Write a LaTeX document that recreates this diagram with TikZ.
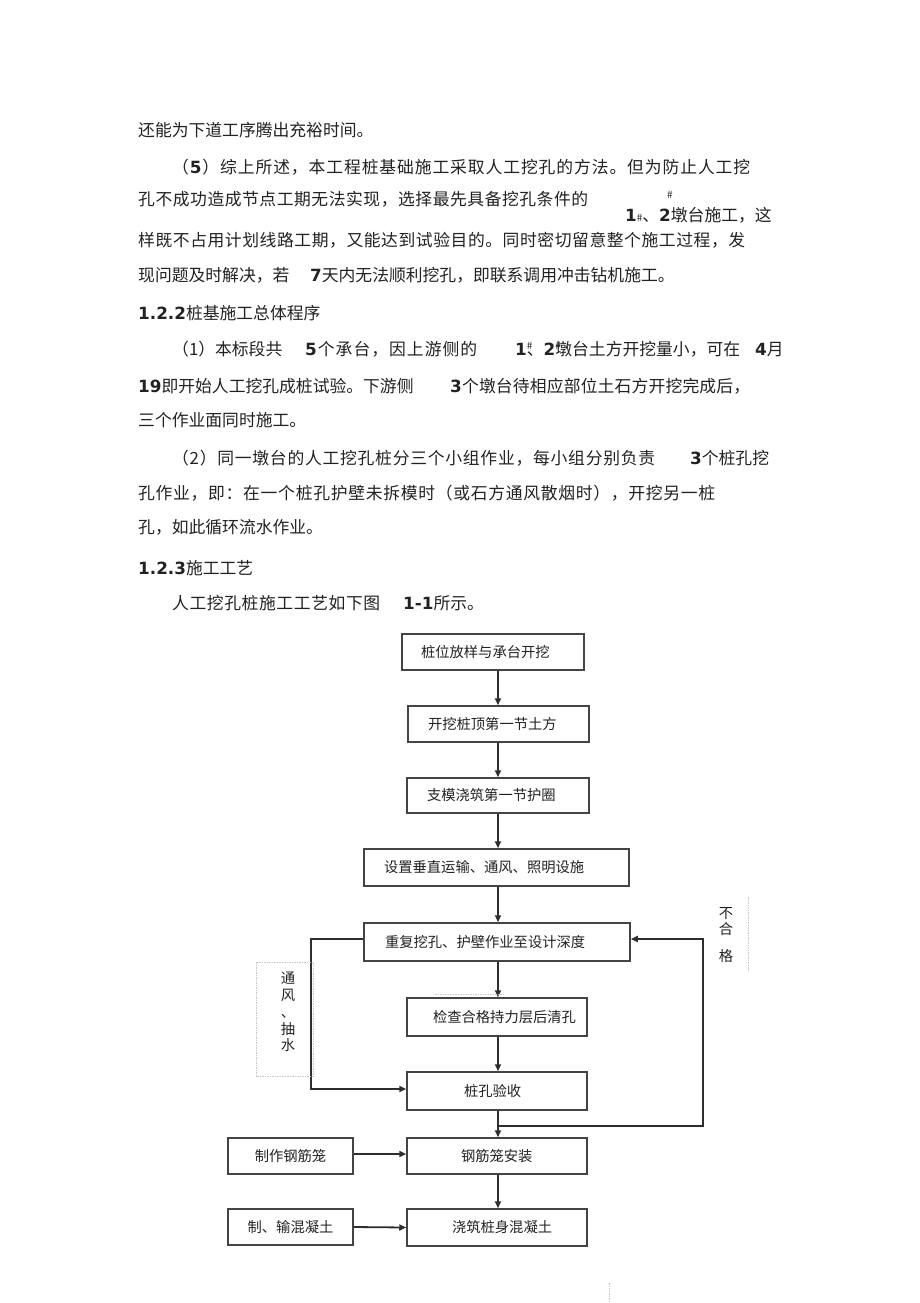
\documentclass[tikz,border=0pt]{standalone}
\usepackage{fontspec}
\setmainfont{Noto Sans CJK SC}
\newfontfamily\numf{DejaVu Sans}
\usetikzlibrary{arrows.meta}
\makeatletter
\newcommand\spreadtext[2]{\hbox to #1{\def\sp@sep{}\@tfor\sp@ch:=#2\do{\sp@sep\sp@ch\def\sp@sep{\hfill}}}}
\makeatother
\newcommand\N[1]{{\numf\bfseries #1}}
\newcommand\sh[1]{{\fontsize{10pt}{10pt}\selectfont #1}}
\newcommand\bodyfont{\fontsize{16.8pt}{18pt}\selectfont}
\newcommand\boxfont{\fontsize{14.3pt}{16.8pt}\selectfont}
\newcommand\lt[3]{\makebox[#1][l]{\hspace*{#2}#3}}
\definecolor{textc}{HTML}{222222}
\definecolor{boxc}{HTML}{444444}
\definecolor{arrc}{HTML}{2E2E2E}
\definecolor{framec}{HTML}{C8C8C8}
\begin{document}
\begin{tikzpicture}[x=1pt,y=-1pt,
  bt/.style={anchor=base west, inner sep=0pt, font=\bodyfont, text=textc},
  box/.style={draw=boxc, line width=1.5pt, inner sep=0pt, font=\boxfont, text=textc, text height=11.9pt, text depth=1pt},
  arr/.style={draw=arrc, line width=1.8pt, -{Triangle[length=7pt,width=6pt]}},
  frame/.style={draw=framec, line width=0.8pt, dash pattern=on 1.5pt off 1pt},
  lbl/.style={align=center, font=\boxfont, inner sep=0pt, text=textc}]
\fill[white] (0,0) rectangle (920,1303);
\useasboundingbox (0,0) rectangle (920,1303);

% body text
\node[bt] (t1) at (138,136) {还能为下道工序腾出充裕时间。};
\node[bt] (t2) at (172,173) {\spreadtext{578pt}{（{\N{5}}）综上所述，本工程桩基础施工采取人工挖孔的方法。但为防止人工挖}};
\node[bt] (t3) at (138,205) {\spreadtext{450pt}{孔不成功造成节点工期无法实现，选择最先具备挖孔条件的}};
\node[anchor=center, inner sep=0pt, font=\bodyfont, text=textc] (t3s) at (670,195) {\sh{\#}};
\node[bt] (t3b) at (625,221) {\N{1}\sh{\#}、\N{2}墩台施工，这};
\node[bt] (t4) at (138,246) {\spreadtext{607pt}{样既不占用计划线路工期，又能达到试验目的。同时密切留意整个施工过程，发}};
\node[bt] (t5a) at (138,281) {现问题及时解决，若};
\node[bt] (t5b) at (310,281) {\N{7}天内无法顺利挖孔，即联系调用冲击钻机施工。};
\node[bt] (h1) at (138,319) {\N{1.2.2}桩基施工总体程序};
\node[bt] (p1a) at (172,355) {（1）本标段共};
\node[bt] (p1b) at (305,355) {\spreadtext{172pt}{{\N{5}}个承台，因上游侧的}};
\node[bt] (p1c) at (515,355) {\N{1}\rlap{\raisebox{6pt}{\sh{\#}}}、\N{2}\rlap{\raisebox{6pt}{\sh{\#}}}墩台土方开挖量小，可在};
\node[bt] (p1d) at (755,355) {\N{4}月};
\node[bt] (p1e) at (138,392) {\N{19}即开始人工挖孔成桩试验。下游侧};
\node[bt] (p1f) at (450,392) {\spreadtext{300pt}{{\N{3}}个墩台待相应部位土石方开挖完成后，}};
\node[bt] (p1g) at (138,426) {三个作业面同时施工。};
\node[bt] (p2a) at (172,464) {\spreadtext{483pt}{（2）同一墩台的人工挖孔桩分三个小组作业，每小组分别负责}};
\node[bt] (p2b) at (690,464) {\N{3}个桩孔挖};
\node[bt] (p2c) at (138,499) {\spreadtext{577pt}{孔作业，即：在一个桩孔护壁未拆模时（或石方通风散烟时），开挖另一桩}};
\node[bt] (p2d) at (138,533) {孔，如此循环流水作业。};
\node[bt] (h2) at (138,574) {\N{1.2.3}施工工艺};
\node[bt] (p3a) at (172,609) {\spreadtext{208pt}{人工挖孔桩施工工艺如下图}};
\node[bt] (p3b) at (403,609) {\N{1-1}所示。};

% flowchart boxes
\node[box, minimum width=182pt, minimum height=36pt] (b1) at (493,652) {\lt{182pt}{19pt}{桩位放样与承台开挖}};
\node[box, minimum width=181pt, minimum height=36pt] (b2) at (498.5,724) {\lt{181pt}{20pt}{开挖桩顶第一节土方}};
\node[box, minimum width=182pt, minimum height=35pt] (b3) at (498,795.5) {\lt{182pt}{20pt}{支模浇筑第一节护圈}};
\node[box, minimum width=265pt, minimum height=37pt] (b4) at (496.5,867.5) {\lt{265pt}{20pt}{设置垂直运输、通风、照明设施}};
\node[box, minimum width=266pt, minimum height=38pt] (b5) at (497,942) {\lt{266pt}{21pt}{重复挖孔、护壁作业至设计深度}};
\node[box, minimum width=180pt, minimum height=38pt] (b6) at (497,1017) {\lt{180pt}{26pt}{检查合格持力层后清孔}};
\node[box, minimum width=180pt, minimum height=38pt] (b7) at (497,1091) {\lt{180pt}{57pt}{桩孔验收}};
\node[box, minimum width=125pt, minimum height=36pt] (b8) at (290.5,1156) {制作钢筋笼};
\node[box, minimum width=180pt, minimum height=36pt] (b9) at (497,1156) {\lt{180pt}{54pt}{钢筋笼安装}};
\node[box, minimum width=125pt, minimum height=36pt] (b10) at (290.5,1227) {制、输混凝土};
\node[box, minimum width=180pt, minimum height=37pt] (b11) at (497,1227.5) {\lt{180pt}{45pt}{浇筑桩身混凝土}};

% connectors
\coordinate (ax) at (498,0);
\foreach \a/\b in {b1/b2,b2/b3,b3/b4,b4/b5,b5/b6,b6/b7,b7/b9,b9/b11}
  \draw[arr] (\a.south -| ax) -- (\b.north -| ax);
\draw[arr] ([yshift=3pt]b5.west) -- ++(-52,0) |- ([yshift=2pt]b7.west);
\coordinate (br) at (498,1126);
\draw[arr] (br) -- ++(205,0) |- ([yshift=3pt]b5.east);
\draw[arr] ([yshift=2pt]b8.east) -- ([yshift=2pt]b9.west);
\draw[arr] (b10.east) -- (b11.west);

% side labels
\draw[frame] (256,962) rectangle (313,1076);
\node[lbl] (l1) at (288,1012) {通\\风\\、\\抽\\水};
\node[lbl] (l2) at (726,935) {不\\合\\[10pt]格};
\draw[frame] (748,897) -- (748,970);
\draw[frame] (435,994) -- (505,994);
\draw[frame] (609,1283) -- (609,1303);
\end{tikzpicture}
\end{document}
